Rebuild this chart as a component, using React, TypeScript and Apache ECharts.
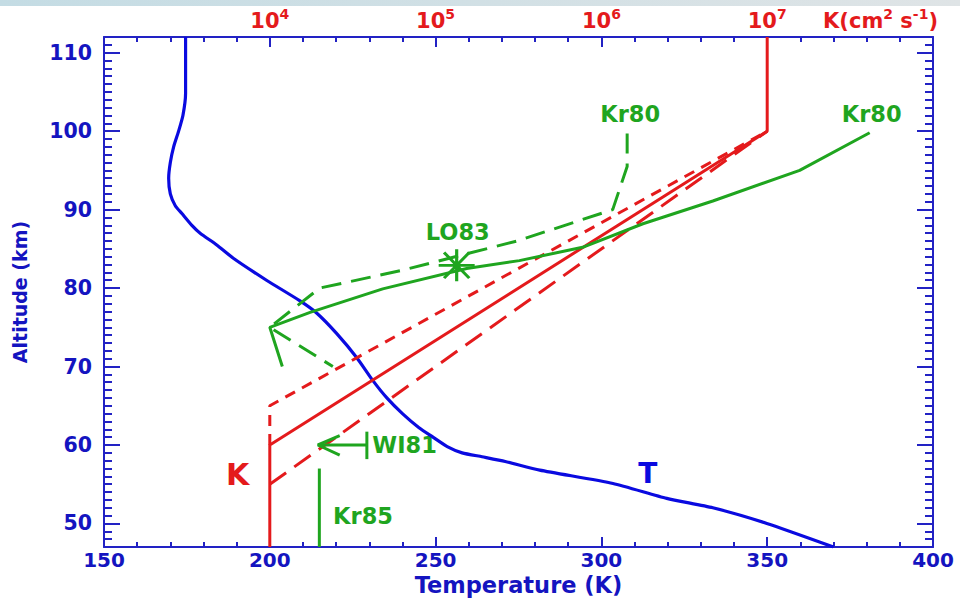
import React, { useEffect, useRef } from "react";
import * as echarts from "echarts";

// ---------- data ----------
// Temperature profile: [temperature (K), altitude (km)]
const TEMPERATURE: [number, number][] = [
  [174.6, 112], [174.6, 104.8], [173.8, 102], [172.5, 100], [171, 98], [170, 96],
  [169.5, 94], [170, 92], [171.5, 90.5], [173.5, 89.5], [176.5, 88], [179, 87],
  [184, 85.5], [189, 83.8], [199, 81], [209, 78.4], [214.2, 76.8], [220.2, 74.2],
  [226.3, 71.1], [231.1, 68.2], [235.3, 66], [240, 64], [245, 62.2], [249.2, 61],
  [253.5, 59.8], [258, 59], [264, 58.5], [271, 57.9], [281.4, 56.8], [303.5, 55.1],
  [319.7, 53.2], [333.6, 52], [349.9, 50], [370, 47],
];
// Eddy diffusion coefficient K (cm^2 s^-1) vs altitude (km)
const K_MODEL: [number, number][] = [[1e4, 47], [1e4, 60], [1e7, 100], [1e7, 112]];
const K_HIGH: [number, number][] = [[1e4, 60], [1e4, 65], [1e7, 100]];
const K_LOW: [number, number][] = [[1e4, 55], [1e7, 100]];
const KR80_A: [number, number][] = [
  [4.15e7, 99.8], [1.57e7, 95], [4.7e6, 91.1], [1.78e6, 88.2], [7.7e5, 85.2],
  [3.2e5, 83.5], [1.54e5, 82.5], [4.8e4, 79.9], [1.75e4, 76.9], [1e4, 75], [1.19e4, 70],
];
const KR80_B: [number, number][] = [
  [1.43e6, 99.7], [1.43e6, 95.5], [1.17e6, 90], [3.1e5, 86], [6.1e4, 82.2],
  [2.0e4, 80], [1e4, 75], [2.4e4, 70],
];
const LO83: [number, number][] = [[1.34e5, 82.9]];
const WI81_STEM: [number, number][] = [[1.95e4, 60], [3.85e4, 60]];
const WI81_BAR: [number, number][] = [[3.85e4, 58.2], [3.85e4, 61.7]];
const WI81_HEAD: [number, number][] = [[2.64e4, 61.2], [1.95e4, 60], [2.64e4, 58.7]];
const KR85: [number, number][] = [[1.99e4, 47], [1.99e4, 57]];

const ALT_MAJOR = [50, 60, 70, 80, 90, 100, 110];

// annotation anchors
const GREEN_LABELS = [
  { name: "Kr80", at: [1.49e6, 102.2] },
  { name: "Kr80", at: [4.27e7, 102.2] },
  { name: "LO83", at: [1.36e5, 87.1] },
  { name: "WI81", at: [6.5e4, 60] },
  { name: "Kr85", at: [3.65e4, 51] },
];
const RED_LABELS = [{ name: "K", at: [6.4e3, 56.2] }];
const BLUE_LABELS = [{ name: "T", at: [314, 56.4] }];

// ---------- styles ----------
const FONT = "DejaVu Sans";
const AX = "#2222c4";
const AXL = "#1414c0";
const BLUE = "#0a0ae0";
const RED = "#e41a1c";
const GREEN = "#1fa51f";

const sup = (e: number) => `{b|10}{s|${e}}`;

export default function App() {
  const ref = useRef<HTMLDivElement>(null);
  useEffect(() => {
    const chart = echarts.init(ref.current!, null, { renderer: "svg" });
    const axisLine = { lineStyle: { color: AX, width: 2 } };
    const tickStyle = { color: AX, width: 2 };
    const lineSeries = (
      data: [number, number][],
      color: string,
      xi: number,
      type: any = "solid",
      width = 3,
      extra: any = {}
    ) => ({
      type: "line",
      xAxisIndex: xi,
      yAxisIndex: 0,
      data,
      symbol: "none",
      showSymbol: false,
      lineStyle: { color, width, type },
      silent: true,
      ...extra,
    });
    const labelSeries = (items: any[], color: string, xi: number, size: number) => ({
      type: "scatter",
      xAxisIndex: xi,
      yAxisIndex: 0,
      symbolSize: 1,
      itemStyle: { color: "rgba(0,0,0,0)", opacity: 1 },
      data: items.map((d) => ({ name: d.name, value: d.at })),
      label: {
        show: true,
        position: "inside",
        formatter: "{b}",
        color,
        fontSize: size,
        fontWeight: "bold",
        fontFamily: FONT,
        textBorderWidth: 0,
        opacity: 1,
      },
      silent: true,
    });
    const richTop = {
      b: { fontSize: 21, fontWeight: "bold", fontFamily: FONT, color: RED, fill: RED, lineHeight: 24, verticalAlign: "bottom" },
      s: { fontSize: 14, fontWeight: "bold", fontFamily: FONT, color: RED, fill: RED, lineHeight: 15, verticalAlign: "top" },
    };
    const option: any = {
      animation: false,
      backgroundColor: "#ffffff",
      grid: { left: 104, right: 27, top: 37, bottom: 67 },
      graphic: [
        {
          type: "rect",
          left: 0,
          top: 0,
          shape: { width: 960, height: 6 },
          style: {
            fill: new echarts.graphic.LinearGradient(0, 0, 1, 0, [
              { offset: 0, color: "#c4dce4" },
              { offset: 1, color: "#dfe4e6" },
            ]),
          },
          silent: true,
        },
        {
          type: "text",
          right: 22,
          top: 7,
          style: {
            text: "{b|K(cm}{s|2}{b| s}{s|-1}{b|)}",
            rich: richTop,
          },
        },
      ],
      xAxis: [
        {
          type: "value",
          min: 150,
          max: 400,
          interval: 50,
          position: "bottom",
          axisLine,
          axisTick: { inside: true, length: 10, lineStyle: tickStyle },
          minorTick: { show: true, splitNumber: 5, length: 5, lineStyle: tickStyle },
          splitLine: { show: false },
          axisLabel: { color: AXL, fontSize: 20, lineHeight: 20, fontWeight: "bold", fontFamily: FONT, margin: 3 },
          name: "Temperature (K)",
          nameLocation: "middle",
          nameGap: 27,
          nameMoveOverlap: false,
          nameTextStyle: { color: AXL, fontSize: 22.5, lineHeight: 22, fontWeight: "bold", fontFamily: FONT },
        },
        {
          type: "value",
          min: 150,
          max: 400,
          interval: 50,
          position: "top",
          axisLine,
          axisTick: { inside: true, length: 10, lineStyle: tickStyle },
          minorTick: { show: true, splitNumber: 5, length: 5, lineStyle: tickStyle },
          splitLine: { show: false },
          axisLabel: { show: false },
        },
        {
          type: "log",
          logBase: 10,
          min: 1e3,
          max: 1e8,
          position: "top",
          axisLine: { show: false },
          axisTick: { show: false },
          splitLine: { show: false },
          axisLabel: {
            margin: 6,
            formatter: (v: number) => {
              const e = Math.round(Math.log10(v));
              return e >= 4 && e <= 7 ? sup(e) : "";
            },
            rich: richTop,
          },
        },
      ],
      yAxis: [
        {
          type: "value",
          min: 47,
          max: 112,
          interval: 1,
          position: "left",
          axisLine,
          axisTick: { inside: true, length: 8, lineStyle: tickStyle },
          splitLine: { show: false },
          axisLabel: {
            color: AXL,
            fontSize: 20.5,
            fontWeight: "bold",
            fontFamily: FONT,
            margin: 12,
            formatter: (v: number) => {
              const r = Math.round(v);
              return Math.abs(v - r) < 1e-6 && r % 10 === 0 ? String(r) : "";
            },
          },
          name: "Altitude (km)",
          nameLocation: "middle",
          nameRotate: 90,
          nameGap: 75,
          nameMoveOverlap: false,
          nameTextStyle: { color: AXL, fontSize: 19, fontWeight: "bold", fontFamily: FONT },
        },
        {
          type: "value",
          min: 47,
          max: 112,
          position: "left",
          axisLine: { show: false },
          axisTick: { inside: true, length: 16, lineStyle: tickStyle, customValues: ALT_MAJOR },
          axisLabel: { show: false },
          splitLine: { show: false },
        },
        {
          type: "value",
          min: 47,
          max: 112,
          interval: 1,
          position: "right",
          axisLine,
          axisTick: { inside: true, length: 8, lineStyle: tickStyle },
          axisLabel: { show: false },
          splitLine: { show: false },
        },
        {
          type: "value",
          min: 47,
          max: 112,
          position: "right",
          axisLine: { show: false },
          axisTick: { inside: true, length: 16, lineStyle: tickStyle, customValues: ALT_MAJOR },
          axisLabel: { show: false },
          splitLine: { show: false },
        },
      ],
      series: [
        lineSeries(TEMPERATURE, BLUE, 0, "solid", 3.2, { smooth: 0.2 }),
        lineSeries(K_MODEL, RED, 2, "solid", 3),
        lineSeries(K_HIGH, RED, 2, [11, 8], 3),
        lineSeries(K_LOW, RED, 2, [20, 10], 3),
        lineSeries(KR80_A, GREEN, 2, "solid", 3),
        lineSeries(KR80_B, GREEN, 2, [20, 10], 3),
        lineSeries(KR85, GREEN, 2, "solid", 3),
        lineSeries(WI81_STEM, GREEN, 2, "solid", 3),
        lineSeries(WI81_BAR, GREEN, 2, "solid", 3),
        lineSeries(WI81_HEAD, GREEN, 2, "solid", 3),
        {
          type: "scatter",
          xAxisIndex: 2,
          yAxisIndex: 0,
          data: LO83,
          symbol: "path://M10,0L10,20M0,10L20,10M3,2L17,18M3,18L17,2",
          symbolSize: [36, 32],
          symbolKeepAspect: false,
          itemStyle: { color: "rgba(0,0,0,0)", borderColor: GREEN, borderWidth: 3, opacity: 1 },
          silent: true,
        },
        labelSeries(GREEN_LABELS, GREEN, 2, 22.5),
        labelSeries(RED_LABELS, RED, 2, 30),
        labelSeries(BLUE_LABELS, BLUE, 0, 28),
      ],
    };
    chart.setOption(option);
    return () => chart.dispose();
  }, []);
  return (
    <div
      ref={ref}
      style={{ position: "fixed", left: 0, top: 0, width: 960, height: 614, background: "#fff" }}
    />
  );
}
